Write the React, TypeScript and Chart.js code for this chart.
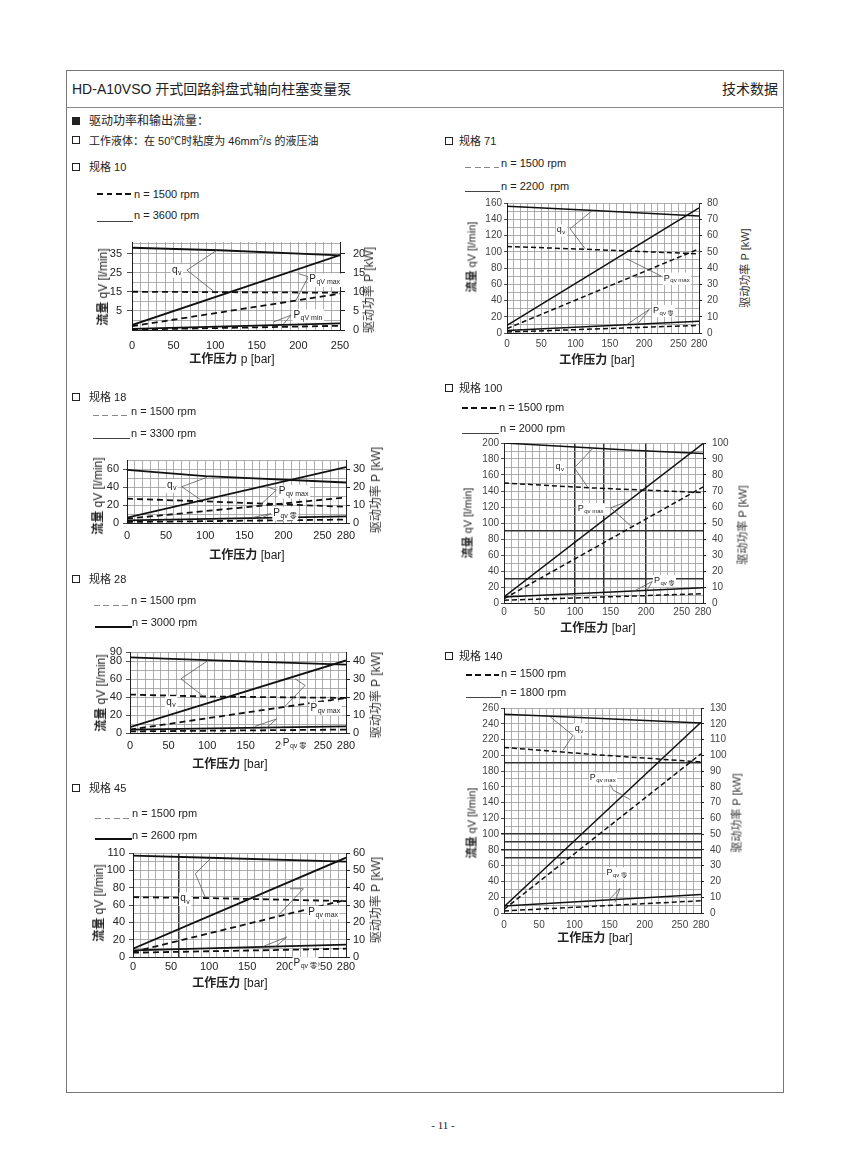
import React, { useEffect, useRef } from "react";
import { Chart, registerables } from "chart.js";

Chart.register(...registerables);

const FONT = '"Liberation Sans", Arial, "Noto Sans CJK SC", sans-serif';

// ===================== 规格 10 =====================
const s10XLabels = [0, 50, 100, 150, 200, 250];
const s10LeftTicks = [5, 15, 25, 35];
const s10RightTicks = [0, 5, 10, 15, 20];
const s10QvX = [0, 105, 250];
const s10LineX = [0, 250];
const s10QvHigh = [38, 36.7, 34];
const s10QvLow = [15, 14.5];
const s10PmaxHigh = [1.3, 19.6];
const s10PmaxLow = [1.0, 9.5];
const s10PminHigh = [0.3, 1.75];
const s10PminLow = [0.1, 1.1];

// ===================== 规格 18 =====================
const s18XLabels = [0, 50, 100, 150, 200, 250, 280];
const s18LeftTicks = [0, 20, 40, 60];
const s18RightTicks = [0, 10, 20, 30];
const s18QvX = [0, 100, 280];
const s18LineX = [0, 280];
const s18QvHigh = [59, 52, 45];
const s18QvLow = [27, 24, 18];
const s18PmaxHigh = [3, 31];
const s18PmaxLow = [2.4, 14.2];
const s18PminHigh = [1.5, 3.7];
const s18PminLow = [0.55, 1.9];

// ===================== 规格 28 =====================
const s28XLabels = [0, 50, 100, 150, 200, 250, 280];
const s28LeftTicks = [0, 20, 40, 60, 80, 90];
const s28RightTicks = [0, 10, 20, 30, 40];
const s28QvX = [0, 100, 280];
const s28LineX = [0, 280];
const s28QvHigh = [84, 81, 76];
const s28QvLow = [42.7, 40.5, 39];
const s28PmaxHigh = [3.2, 40.3];
const s28PmaxLow = [1.9, 19.5];
const s28PminHigh = [1.9, 3.7];
const s28PminLow = [0.9, 1.9];

// ===================== 规格 45 =====================
const s45XLabels = [0, 50, 100, 150, 200, 250, 280];
const s45LeftTicks = [0, 20, 40, 60, 80, 100, 120];
const s45LeftTickText = ["0", "20", "40", "60", "80", "100", "110"];
const s45RightTicks = [0, 10, 20, 30, 40, 50, 60];
const s45QvX = [0, 100, 280];
const s45LineX = [0, 280];
const s45QvHigh = [117, 114.5, 110];
const s45QvLow = [69, 68, 64.5];
const s45PmaxHigh = [4.8, 57.3];
const s45PmaxLow = [2.9, 33];
const s45PminHigh = [3.8, 7.1];
const s45PminLow = [2.5, 4.8];

// ===================== 规格 71 =====================
const s71XLabels = [0, 50, 100, 150, 200, 250, 280];
const s71LeftTicks = [0, 20, 40, 60, 80, 100, 120, 140, 160];
const s71RightTicks = [0, 10, 20, 30, 40, 50, 60, 70, 80];
const s71QvHighX = [0, 120, 280];
const s71QvLowX = [0, 115, 280];
const s71LineX = [0, 280];
const s71QvHigh = [156, 151, 144];
const s71QvLow = [106.5, 103, 97.5];
const s71PmaxHigh = [4.7, 77];
const s71PmaxLow = [2.7, 51.8];
const s71PminHigh = [1.6, 7.2];
const s71PminLow = [0.6, 4.7];

// ===================== 规格 100 =====================
const s100XLabels = [0, 50, 100, 150, 200, 250, 280];
const s100LeftTicks = [0, 20, 40, 60, 80, 100, 120, 140, 160, 180, 200];
const s100RightTicks = [0, 10, 20, 30, 40, 50, 60, 70, 80, 90, 100];
const s100QvHighX = [0, 180, 280];
const s100QvLowX = [0, 120, 280];
const s100LineX = [0, 280];
const s100QvHigh = [200, 191, 187];
const s100QvLow = [150, 144, 138];
const s100PmaxHigh = [3.75, 99.6];
const s100PmaxLow = [2.7, 72.5];
const s100PminHigh = [3.75, 9.6];
const s100PminLow = [1.7, 5.8];

// ===================== 规格 140 =====================
const s140XLabels = [0, 50, 100, 150, 200, 250, 280];
const s140LeftTicks = [0, 20, 40, 60, 80, 100, 120, 140, 160, 180, 200, 220, 240, 260];
const s140RightTicks = [0, 10, 20, 30, 40, 50, 60, 70, 80, 90, 100, 110, 120, 130];
const s140QvHighX = [0, 60, 280];
const s140QvLowX = [0, 120, 280];
const s140LineX = [0, 280];
const s140QvHigh = [252, 250, 241];
const s140QvLow = [210, 201.5, 191.5];
const s140PmaxHigh = [4, 121];
const s140PmaxLow = [2.3, 101];
const s140PminHigh = [4.4, 11.8];
const s140PminLow = [1.3, 7.8];

// ---------- curve labels (left-axis units) ----------
type Note = { t: string; s: string; x: number; y: number };
const s10Notes: Note[] = [
  { t: "q", s: "v", x: 48, y: 26.3 },
  { t: "P", s: "qV max", x: 213, y: 21.4 },
  { t: "P", s: "qV min", x: 194, y: 2.7 },
];
const s10Leaders = [
  [[102, 36.7], [66, 26.3], [98, 15.3]],
  [[200, 24.5], [212, 22.8], [196, 9.7]],
  [[170, -0.8], [191, 2.7], [182, -2]],
];
const s18Notes: Note[] = [
  { t: "q", s: "v", x: 51, y: 42 },
  { t: "P", s: "qv max", x: 194, y: 35.4 },
  { t: "P", s: "qv 零", x: 187, y: 11.2 },
];
const s18Leaders = [
  [[102, 50.7], [70, 40.3], [94, 26]],
  [[179, 40.3], [191, 36.6], [170, 19.8]],
  [[160, 6], [184, 10.4], [168, 4.1]],
];
const s28Notes: Note[] = [
  { t: "q", s: "v", x: 47, y: 34.2 },
  { t: "P", s: "qv max", x: 234, y: 27.9 },
  { t: "P", s: "qv 零", x: 198, y: -11 },
];
const s28Leaders = [
  [[101.5, 80.7], [66, 60.2], [95, 40.9]],
  [[214, 60.2], [227, 52.8], [201, 29.7]],
  [[162, 7.4], [190, 15.6], [177, 5.6]],
];
const s45Notes: Note[] = [
  { t: "q", s: "v", x: 62, y: 67.3 },
  { t: "P", s: "qv max", x: 230.5, y: 52 },
  { t: "P", s: "qv 零", x: 211, y: -7 },
];
const s45Leaders = [
  [[101.5, 113.5], [82, 96], [95, 69]],
  [[206.5, 78.8], [224, 78.8], [191, 48]],
  [[171.5, 12.3], [202, 23], [187, 11.5]],
];
const s71Notes: Note[] = [
  { t: "q", s: "v", x: 72.7, y: 127 },
  { t: "P", s: "qv max", x: 228.7, y: 67.6 },
  { t: "P", s: "qv 零", x: 213, y: 27.9 },
];
const s71Leaders = [
  [[123.5, 150], [92, 128.3], [114, 103.7]],
  [[174.4, 91.4], [225, 70], [186.5, 68.9]],
  [[174.4, 10.2], [207.4, 29], [189, 9.4]],
];
const s100Notes: Note[] = [
  { t: "q", s: "v", x: 72.3, y: 170.8 },
  { t: "P", s: "qv max", x: 103.6, y: 118 },
  { t: "P", s: "qv 零", x: 211, y: 28.3 },
];
const s100Leaders = [
  [[124.6, 193], [99, 169], [117.6, 145]],
  [[171, 126], [150, 119], [180, 95]],
  [[180.6, 13.75], [208.6, 27], [199, 12.5]],
];
const s140Notes: Note[] = [
  { t: "q", s: "v", x: 100.6, y: 233.8 },
  { t: "P", s: "qv max", x: 122, y: 171.3 },
  { t: "P", s: "qv 零", x: 145.7, y: 51 },
];
const s140Leaders = [
  [[65, 249.4], [98, 225.3], [84, 206.3]],
  [[150, 165], [155, 156], [179, 144]],
  [[164.7, 31.2], [148, 15.6]],
  [[164.7, 31.2], [157.6, 13.5]],
];

// ---------- types / spec ----------
type Series = { x: number[]; y: number[]; axis: "yL" | "yR"; dash: boolean };
type Spec = {
  xMax: number;
  xLabels: number[];
  lMin: number;
  lMax: number;
  lStep: number;
  lTicks: number[];
  lText?: string[];
  rMax: number;
  rTicks: number[];
  series: Series[];
  notes: Note[];
  leaders: number[][][];
  box: [number, number, number, number];
  font: number;
  tl: number;
  lPad: number;
  rPad: number;
  xPad: number;
  lw: number;
  dash: number[];
  noteFont: number;
  tickColor: string;
  darkX?: number[];
  darkY?: number[];
};

const mk = (
  qvHX: number[], qvH: number[], qvLX: number[], qvL: number[], lx: number[],
  pmH: number[], pmL: number[], pnH: number[], pnL: number[]
): Series[] => [
  { x: qvHX, y: qvH, axis: "yL", dash: false },
  { x: qvLX, y: qvL, axis: "yL", dash: true },
  { x: lx, y: pmH, axis: "yR", dash: false },
  { x: lx, y: pmL, axis: "yR", dash: true },
  { x: lx, y: pnH, axis: "yR", dash: false },
  { x: lx, y: pnL, axis: "yR", dash: true },
];

const LEFTCOL = { font: 11, tl: 4, lw: 1.8, dash: [6, 4], noteFont: 10, tickColor: "#222" };
const RIGHTCOL = { font: 10, tl: 3, lw: 1.5, dash: [5, 3], noteFont: 9, tickColor: "#444" };

const SPEC10: Spec = {
  ...LEFTCOL, xMax: 250, xLabels: s10XLabels, lMin: -5, lMax: 41, lStep: 5, lTicks: s10LeftTicks,
  rMax: 23, rTicks: s10RightTicks,
  series: mk(s10QvX, s10QvHigh, s10LineX, s10QvLow, s10LineX, s10PmaxHigh, s10PmaxLow, s10PminHigh, s10PminLow),
  notes: s10Notes, leaders: s10Leaders, box: [132, 242, 340, 330], lPad: 5, rPad: 8, xPad: 9, tl: 5,
};
const SPEC18: Spec = {
  ...LEFTCOL, xMax: 280, xLabels: s18XLabels, lMin: 0, lMax: 70, lStep: 10, lTicks: s18LeftTicks,
  rMax: 35, rTicks: s18RightTicks,
  series: mk(s18QvX, s18QvHigh, s18QvX, s18QvLow, s18LineX, s18PmaxHigh, s18PmaxLow, s18PminHigh, s18PminLow),
  notes: s18Notes, leaders: s18Leaders, box: [127, 460, 346, 523], lPad: 4, rPad: 3, xPad: 6,
};
const SPEC28: Spec = {
  ...LEFTCOL, xMax: 280, xLabels: s28XLabels, lMin: 0, lMax: 90, lStep: 10, lTicks: s28LeftTicks,
  rMax: 45, rTicks: s28RightTicks,
  series: mk(s28QvX, s28QvHigh, s28QvX, s28QvLow, s28LineX, s28PmaxHigh, s28PmaxLow, s28PminHigh, s28PminLow),
  notes: s28Notes, leaders: s28Leaders, box: [130, 652, 346, 733], lPad: 4, rPad: 3, xPad: 6,
};
const SPEC45: Spec = {
  ...LEFTCOL, xMax: 280, xLabels: s45XLabels, lMin: 0, lMax: 120, lStep: 10, lTicks: s45LeftTicks, lText: s45LeftTickText,
  rMax: 60, rTicks: s45RightTicks,
  series: mk(s45QvX, s45QvHigh, s45QvX, s45QvLow, s45LineX, s45PmaxHigh, s45PmaxLow, s45PminHigh, s45PminLow),
  notes: s45Notes, leaders: s45Leaders, box: [133, 853, 346, 957], lPad: 4, rPad: 3, xPad: 3, darkX: [60],
};
const SPEC71: Spec = {
  ...RIGHTCOL, xMax: 280, xLabels: s71XLabels, lMin: 0, lMax: 160, lStep: 10, lTicks: s71LeftTicks,
  rMax: 80, rTicks: s71RightTicks,
  series: mk(s71QvHighX, s71QvHigh, s71QvLowX, s71QvLow, s71LineX, s71PmaxHigh, s71PmaxLow, s71PminHigh, s71PminLow),
  notes: s71Notes, leaders: s71Leaders, box: [507, 203, 699, 333], lPad: 2, rPad: 5, xPad: 5,
};
const SPEC100: Spec = {
  ...RIGHTCOL, xMax: 280, xLabels: s100XLabels, lMin: 0, lMax: 200, lStep: 10, lTicks: s100LeftTicks,
  rMax: 100, rTicks: s100RightTicks,
  series: mk(s100QvHighX, s100QvHigh, s100QvLowX, s100QvLow, s100LineX, s100PmaxHigh, s100PmaxLow, s100PminHigh, s100PminLow),
  notes: s100Notes, leaders: s100Leaders, box: [504, 443, 703, 603], lPad: 2, rPad: 6, xPad: 3,
  darkX: [100, 140, 200], darkY: [90, 30],
};
const SPEC140: Spec = {
  ...RIGHTCOL, xMax: 280, xLabels: s140XLabels, lMin: 0, lMax: 260, lStep: 10, lTicks: s140LeftTicks,
  rMax: 130, rTicks: s140RightTicks,
  series: mk(s140QvHighX, s140QvHigh, s140QvLowX, s140QvLow, s140LineX, s140PmaxHigh, s140PmaxLow, s140PminHigh, s140PminLow),
  notes: s140Notes, leaders: s140Leaders, box: [504, 708, 701, 913], lPad: 2, rPad: 6, xPad: 6,
  darkY: [190, 100, 90, 80, 70],
};

const LW = 42, RW = 36, TP = 8, BH = 30;
const GRID = "#9a9a9a";

function range(a: number, z: number, st: number) {
  const out: number[] = [];
  for (let v = a; v <= z + 1e-9; v += st) out.push(Math.round(v * 1000) / 1000);
  return out;
}

function PumpChart({ spec }: { spec: Spec }) {
  const ref = useRef<HTMLCanvasElement | null>(null);
  const [l, t, r, b] = spec.box;
  const W = r - l + LW + RW;
  const H = b - t + TP + BH;
  useEffect(() => {
    const c = ref.current;
    if (!c) return;
    const sp = spec;
    const datasets = sp.series.map((s) => ({
      data: s.x.map((x, i) => ({ x, y: s.y[i] })),
      yAxisID: s.axis,
      borderColor: "#111",
      borderWidth: sp.lw,
      borderDash: s.dash ? sp.dash : [],
      pointRadius: 0,
      fill: false,
      tension: 0,
    }));
    const tickFont = { family: FONT, size: sp.font };
    const notesPlugin = {
      id: "notes",
      afterDatasetsDraw(chart: any) {
        const { ctx, scales } = chart;
        const sx = scales.x, sy = scales.yL;
        ctx.save();
        ctx.strokeStyle = "#555";
        ctx.lineWidth = 0.8;
        for (const poly of sp.leaders) {
          ctx.beginPath();
          poly.forEach((p, i) => {
            const px = sx.getPixelForValue(p[0]);
            const py = sy.getPixelForValue(p[1]);
            if (i === 0) ctx.moveTo(px, py);
            else ctx.lineTo(px, py);
          });
          ctx.stroke();
        }
        const fs = sp.noteFont;
        for (const n of sp.notes) {
          const px = sx.getPixelForValue(n.x);
          const py = sy.getPixelForValue(n.y);
          ctx.font = `${fs}px ${FONT}`;
          const w1 = ctx.measureText(n.t).width;
          ctx.font = `${Math.round(fs * 0.7)}px ${FONT}`;
          const w2 = ctx.measureText(n.s).width;
          ctx.fillStyle = "#fff";
          ctx.fillRect(px - 1, py - fs * 0.6, w1 + w2 + 3, fs * 1.35);
          ctx.fillStyle = "#222";
          ctx.textBaseline = "middle";
          ctx.textAlign = "left";
          ctx.font = `${fs}px ${FONT}`;
          ctx.fillText(n.t, px, py);
          ctx.font = `${Math.round(fs * 0.7)}px ${FONT}`;
          ctx.fillText(n.s, px + w1 + 0.5, py + fs * 0.3);
        }
        ctx.restore();
      },
    };
    const isDark = (arr: number[] | undefined, v: number) => !!arr && arr.includes(v);
    const chart = new Chart(c, {
      type: "line",
      data: { datasets: datasets as any },
      options: {
        animation: false,
        responsive: false,
        maintainAspectRatio: false,
        layout: { padding: { top: TP, left: 0, right: 0, bottom: 0 } },
        plugins: { legend: { display: false }, tooltip: { enabled: false } },
        scales: {
          x: {
            type: "linear",
            min: 0,
            max: sp.xMax,
            afterBuildTicks: (s: any) => {
              s.ticks = range(0, sp.xMax, 10).map((v) => ({ value: v }));
            },
            afterFit: (s: any) => {
              s.height = BH;
              s.paddingLeft = 0;
              s.paddingRight = 0;
            },
            ticks: {
              autoSkip: false,
              maxRotation: 0,
              minRotation: 0,
              padding: sp.xPad,
              font: tickFont,
              color: sp.tickColor,
              callback: (v: any) => (sp.xLabels.includes(Number(v)) ? String(v) : ""),
            },
            grid: {
              drawTicks: false,
              color: (ctx: any) => (isDark(sp.darkX, ctx.tick?.value) ? "#333" : GRID),
              lineWidth: (ctx: any) => (isDark(sp.darkX, ctx.tick?.value) ? 1.5 : 0.8),
            },
            border: { display: true, color: "#222", width: 1 },
          } as any,
          yL: {
            type: "linear",
            position: "left",
            min: sp.lMin,
            max: sp.lMax,
            afterBuildTicks: (s: any) => {
              s.ticks = range(sp.lMin, sp.lMax, sp.lStep).map((v) => ({ value: v }));
            },
            afterFit: (s: any) => {
              s.width = LW;
              s.paddingTop = 0;
              s.paddingBottom = 0;
            },
            ticks: {
              autoSkip: false,
              padding: sp.lPad,
              font: tickFont,
              color: sp.tickColor,
              callback: (v: any) => {
                const i = sp.lTicks.indexOf(Number(v));
                if (i < 0) return "";
                return sp.lText ? sp.lText[i] : String(v);
              },
            },
            grid: {
              tickLength: sp.tl,
              color: (ctx: any) => (isDark(sp.darkY, ctx.tick?.value) ? "#333" : GRID),
              lineWidth: (ctx: any) => (isDark(sp.darkY, ctx.tick?.value) ? 1.5 : 0.8),
              tickColor: (ctx: any) => (sp.lTicks.includes(ctx.tick?.value) ? "#222" : "rgba(0,0,0,0)"),
            },
            border: { display: true, color: "#222", width: 1 },
          } as any,
          yR: {
            type: "linear",
            position: "right",
            min: 0,
            max: sp.rMax,
            afterBuildTicks: (s: any) => {
              s.ticks = sp.rTicks.map((v) => ({ value: v }));
            },
            afterFit: (s: any) => {
              s.width = RW;
              s.paddingTop = 0;
              s.paddingBottom = 0;
            },
            ticks: { autoSkip: false, padding: sp.rPad, font: tickFont, color: sp.tickColor },
            grid: { drawOnChartArea: false, tickLength: sp.tl, tickColor: "#222" },
            border: { display: true, color: "#222", width: 1 },
          } as any,
        },
      },
      plugins: [notesPlugin],
    });
    return () => chart.destroy();
  }, [spec]);
  return (
    <canvas
      ref={ref}
      width={W}
      height={H}
      style={{ position: "absolute", left: l - LW, top: t - TP, width: W, height: H }}
    />
  );
}

// ---------- page helpers ----------
const Txt = ({ x, y, size = 11, children, right, style }: any) => (
  <div
    style={{
      position: "absolute",
      left: x,
      top: y,
      transform: right ? "translate(-100%,-50%)" : "translateY(-50%)",
      fontSize: size,
      lineHeight: 1,
      whiteSpace: "nowrap",
      ...style,
    }}
  >
    {children}
  </div>
);
const CTxt = ({ x, y, size = 12, children }: any) => (
  <div
    style={{
      position: "absolute",
      left: x,
      top: y,
      transform: "translate(-50%,-50%)",
      fontSize: size,
      lineHeight: 1,
      whiteSpace: "nowrap",
    }}
  >
    {children}
  </div>
);
const VTxt = ({ x, y, size = 12, children }: any) => (
  <div
    style={{
      position: "absolute",
      left: x,
      top: y,
      transform: "translate(-50%,-50%) rotate(-90deg)",
      fontSize: size,
      lineHeight: 1,
      whiteSpace: "nowrap",
    }}
  >
    {children}
  </div>
);
const Sq = ({ x, y, filled }: any) => (
  <div
    style={{
      position: "absolute",
      left: x,
      top: y - 4,
      width: 6,
      height: 6,
      border: "1.5px solid #222",
      background: filled ? "#222" : "#fff",
    }}
  />
);
const Leg = ({ x, y, w, kind }: any) => {
  let bg = "#111";
  let h = 1;
  if (kind === "boldDash") {
    bg = "repeating-linear-gradient(to right, #111 0 6px, transparent 6px 9.5px)";
    h = 2;
  } else if (kind === "lightDash") {
    bg = "repeating-linear-gradient(to right, #888 0 6px, transparent 6px 9.5px)";
    h = 1;
  } else if (kind === "thin") {
    bg = "#444";
    h = 1;
  } else if (kind === "bold") {
    bg = "#111";
    h = 2;
  }
  return <div style={{ position: "absolute", left: x, top: y, width: w, height: h, background: bg }} />;
};

const Section = ({ bx, tx, y, label }: any) => (
  <>
    <Sq x={bx} y={y} />
    <Txt x={tx} y={y} size={11}>
      {label}
    </Txt>
  </>
);

const YTitle = () => (
  <span>
    <b>流量</b> qV [l/min]
  </span>
);
const RTitle = () => <span style={{ color: "#333" }}>驱动功率 P [kW]</span>;
const XTitle = ({ p }: any) => (
  <span>
    <b>工作压力</b> {p ? "p " : ""}[bar]
  </span>
);

export default function App() {
  useEffect(() => {
    document.body.style.margin = "0";
  }, []);
  return (
    <div
      style={{
        position: "relative",
        width: 850,
        height: 1174,
        fontFamily: FONT,
        color: "#222",
        background: "#fff",
        overflow: "hidden",
      }}
    >
      {/* frame */}
      <div
        style={{
          position: "absolute",
          left: 66,
          top: 70,
          width: 716,
          height: 1021,
          border: "1px solid #777",
        }}
      />
      <div style={{ position: "absolute", left: 66, top: 107, width: 718, height: 1, background: "#888" }} />

      <Txt x={72} y={89} size={14}>
        HD-A10VSO 开式回路斜盘式轴向柱塞变量泵
      </Txt>
      <Txt x={778} y={89} size={14} right>
        技术数据
      </Txt>

      <Sq x={72} y={121} filled />
      <Txt x={89} y={121} size={12}>
        驱动功率和输出流量：
      </Txt>
      <Section bx={72} tx={89} y={140} label={<span>工作液体：在 50℃时粘度为 46mm<sup style={{ fontSize: 7 }}>2</sup>/s 的液压油</span>} />

      {/* ---- 规格 10 ---- */}
      <Section bx={72} tx={89} y={167} label="规格 10" />
      <Leg x={97} y={193} w={35} kind="boldDash" />
      <Txt x={134} y={194}>n = 1500 rpm</Txt>
      <Leg x={97} y={221} w={36} kind="thin" />
      <Txt x={134} y={215}>n = 3600 rpm</Txt>
      <PumpChart spec={SPEC10} />
      <VTxt x={103} y={287}><YTitle /></VTxt>
      <VTxt x={369} y={290}><RTitle /></VTxt>
      <CTxt x={232} y={359}><XTitle p /></CTxt>

      {/* ---- 规格 18 ---- */}
      <Section bx={72} tx={89} y={397} label="规格 18" />
      <Leg x={93} y={415} w={36} kind="lightDash" />
      <Txt x={131} y={411}>n = 1500 rpm</Txt>
      <Leg x={93} y={438} w={37} kind="thin" />
      <Txt x={131} y={433}>n = 3300 rpm</Txt>
      <PumpChart spec={SPEC18} />
      <VTxt x={98} y={496}><YTitle /></VTxt>
      <VTxt x={376} y={490}><RTitle /></VTxt>
      <CTxt x={247} y={555}><XTitle /></CTxt>

      {/* ---- 规格 28 ---- */}
      <Section bx={72} tx={89} y={579} label="规格 28" />
      <Leg x={94} y={605} w={36} kind="lightDash" />
      <Txt x={131} y={600}>n = 1500 rpm</Txt>
      <Leg x={95} y={626} w={37} kind="bold" />
      <Txt x={132} y={622}>n = 3000 rpm</Txt>
      <PumpChart spec={SPEC28} />
      <VTxt x={101} y={693}><YTitle /></VTxt>
      <VTxt x={376} y={695}><RTitle /></VTxt>
      <CTxt x={230} y={764}><XTitle /></CTxt>

      {/* ---- 规格 45 ---- */}
      <Section bx={72} tx={89} y={788} label="规格 45" />
      <Leg x={95} y={818} w={36} kind="lightDash" />
      <Txt x={132} y={813}>n = 1500 rpm</Txt>
      <Leg x={95} y={838} w={37} kind="bold" />
      <Txt x={132} y={835}>n = 2600 rpm</Txt>
      <PumpChart spec={SPEC45} />
      <VTxt x={99} y={903}><YTitle /></VTxt>
      <VTxt x={376} y={900}><RTitle /></VTxt>
      <CTxt x={230} y={983}><XTitle /></CTxt>

      {/* ---- 规格 71 ---- */}
      <Section bx={445} tx={459} y={141} label="规格 71" />
      <Leg x={465} y={167} w={34} kind="lightDash" />
      <Txt x={501} y={163}>n = 1500 rpm</Txt>
      <Leg x={465} y={191} w={35} kind="thin" />
      <Txt x={501} y={186}>n = 2200&nbsp; rpm</Txt>
      <PumpChart spec={SPEC71} />
      <VTxt x={472} y={257} size={11}><YTitle /></VTxt>
      <VTxt x={745} y={268} size={11}><RTitle /></VTxt>
      <CTxt x={597} y={360}><XTitle /></CTxt>

      {/* ---- 规格 100 ---- */}
      <Section bx={445} tx={459} y={388} label="规格 100" />
      <Leg x={462} y={407} w={34} kind="boldDash" />
      <Txt x={499} y={407}>n = 1500 rpm</Txt>
      <Leg x={462} y={433} w={37} kind="thin" />
      <Txt x={500} y={428}>n = 2000 rpm</Txt>
      <PumpChart spec={SPEC100} />
      <VTxt x={468} y={523} size={11}><YTitle /></VTxt>
      <VTxt x={743} y={525} size={11}><RTitle /></VTxt>
      <CTxt x={598} y={628}><XTitle /></CTxt>

      {/* ---- 规格 140 ---- */}
      <Section bx={445} tx={459} y={656} label="规格 140" />
      <Leg x={466} y={674} w={33} kind="boldDash" />
      <Txt x={501} y={673}>n = 1500 rpm</Txt>
      <Leg x={466} y={697} w={35} kind="thin" />
      <Txt x={501} y={692}>n = 1800 rpm</Txt>
      <PumpChart spec={SPEC140} />
      <VTxt x={472} y={823} size={11}><YTitle /></VTxt>
      <VTxt x={737} y={813} size={11}><RTitle /></VTxt>
      <CTxt x={595} y={938}><XTitle /></CTxt>

      <CTxt x={443} y={1125} size={11}>
        <span style={{ fontFamily: '"Liberation Serif", serif' }}>- 11 -</span>
      </CTxt>
    </div>
  );
}
